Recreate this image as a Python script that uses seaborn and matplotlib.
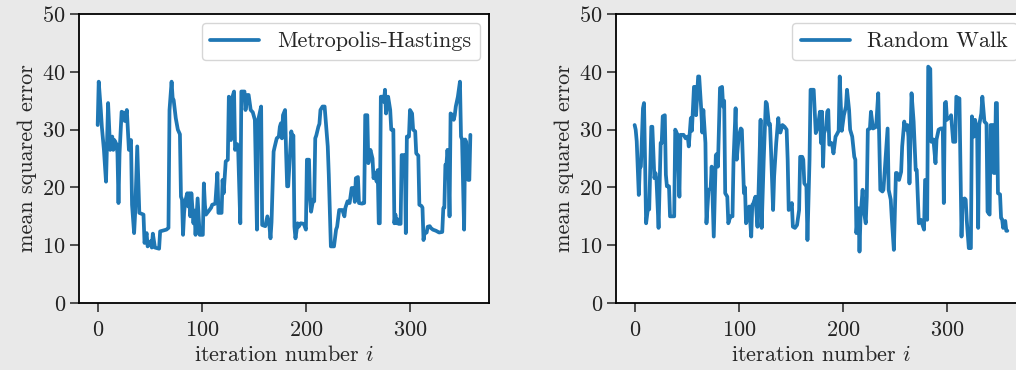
import matplotlib
matplotlib.use("Agg")
import matplotlib.pyplot as plt
import seaborn as sns

# Metropolis-Hastings chain: iteration / mean squared error
mh_iter = [0, 1, 3, 4, 6, 8, 10, 12, 14, 15, 16, 18, 19, 20, 21, 23, 25, 26, 28, 30,
           32, 33, 35, 36, 38, 40, 44, 45, 47, 48, 51, 52, 53, 55, 59, 60, 66, 68, 69, 71,
           72, 73, 75, 77, 79, 80, 81, 82, 83, 84, 86, 87, 88, 89, 90, 92, 93, 94, 96, 98,
           101, 102, 103, 104, 107, 109, 110, 113, 115, 116, 119, 120, 121, 123, 125, 126, 127, 128, 129, 131,
           132, 134, 135, 137, 138, 141, 142, 144, 145, 147, 149, 151, 153, 154, 157, 158, 161, 163, 165, 166,
           167, 169, 170, 172, 174, 175, 176, 177, 178, 180, 181, 182, 183, 185, 186, 187, 188, 189, 190, 192,
           193, 195, 198, 200, 201, 203, 204, 205, 207, 208, 209, 210, 212, 213, 214, 216, 218, 219, 221, 222,
           224, 227, 229, 230, 232, 235, 237, 238, 240, 242, 244, 246, 247, 248, 250, 251, 254, 256, 257, 259,
           260, 262, 264, 265, 266, 268, 269, 270, 271, 272, 274, 275, 276, 277, 279, 280, 281, 282, 284, 285,
           286, 287, 288, 289, 291, 292, 295, 296, 297, 299, 300, 302, 303, 305, 306, 308, 309, 311, 312, 313,
           314, 316, 317, 319, 320, 322, 325, 328, 331, 332, 333, 334, 335, 336, 337, 338, 339, 341, 342, 343,
           344, 346, 348, 349, 350, 352, 353, 354, 356, 357, 358]
mh_mse = [30.8, 38.3, 33.4, 30.5, 26.5, 21.0, 34.6, 26.5, 28.8, 26.5, 28.2, 27.5, 25.9, 17.3, 25.9, 33.1, 32.9, 31.5, 33.4, 26.5,
          28.2, 17.0, 12.1, 15.6, 27.1, 15.6, 15.3, 10.4, 12.1, 9.8, 10.7, 9.6, 12.0, 9.6, 9.4, 12.4, 12.7, 13.0, 33.4, 38.3,
          35.5, 35.1, 32.0, 30.0, 29.2, 18.4, 17.9, 11.8, 15.6, 17.5, 19.0, 16.7, 19.0, 15.0, 19.0, 13.8, 16.0, 11.8, 18.1, 11.8,
          11.8, 20.7, 17.0, 15.3, 16.0, 16.5, 17.0, 17.2, 22.5, 15.6, 15.6, 21.3, 19.0, 24.5, 24.8, 35.7, 35.0, 28.2, 35.4, 36.6,
          26.5, 27.5, 26.2, 13.8, 36.6, 36.6, 33.4, 36.0, 36.0, 33.4, 33.0, 31.7, 12.7, 31.5, 34.0, 13.5, 13.3, 15.0, 13.3, 11.2,
          14.0, 26.2, 27.0, 28.5, 28.8, 30.5, 31.1, 28.5, 32.5, 33.4, 26.0, 20.2, 20.2, 26.5, 29.7, 28.5, 29.0, 13.2, 11.2, 13.8,
          13.2, 13.8, 13.7, 12.7, 24.8, 24.8, 17.9, 15.8, 17.9, 17.6, 28.5, 29.0, 30.5, 31.0, 33.4, 34.0, 34.0, 31.7, 27.1, 22.2,
          9.8, 9.8, 12.7, 13.2, 16.1, 16.1, 15.0, 16.5, 17.6, 17.3, 19.9, 19.9, 17.5, 21.6, 21.8, 17.3, 17.2, 17.3, 32.5, 32.5,
          24.2, 26.5, 25.0, 21.6, 22.5, 21.0, 23.0, 13.8, 13.8, 35.7, 35.7, 34.8, 36.9, 32.8, 35.7, 34.5, 33.4, 30.0, 30.0, 13.8,
          15.3, 13.8, 14.5, 13.7, 13.7, 25.6, 25.6, 12.1, 28.8, 28.8, 33.4, 32.8, 30.0, 29.7, 25.9, 25.5, 17.0, 16.8, 16.5, 10.9,
          12.1, 12.2, 13.2, 13.3, 13.0, 12.7, 12.5, 12.2, 12.3, 16.4, 16.5, 23.9, 23.9, 26.5, 24.0, 15.0, 32.8, 32.5, 31.7, 32.5,
          34.0, 35.7, 38.3, 28.8, 28.3, 12.7, 28.3, 27.9, 21.3, 21.3, 29.1]

# Random walk chain
rw_iter = [0, 1, 2, 4, 5, 6, 8, 9, 10, 11, 13, 14, 16, 17, 19, 20, 21, 23, 25, 26,
           27, 29, 30, 31, 33, 34, 38, 39, 41, 43, 44, 47, 49, 51, 52, 54, 55, 57, 58, 59,
           61, 62, 64, 65, 66, 68, 69, 71, 73, 74, 76, 78, 79, 80, 82, 84, 85, 86, 87, 89,
           90, 92, 94, 95, 97, 98, 100, 102, 103, 105, 106, 107, 109, 110, 112, 113, 114, 116, 118, 119,
           121, 122, 124, 126, 127, 129, 130, 131, 133, 134, 136, 138, 139, 140, 142, 144, 146, 147, 148, 150,
           151, 152, 154, 156, 158, 159, 161, 162, 163, 165, 166, 168, 169, 172, 173, 174, 176, 178, 179, 180,
           181, 182, 184, 185, 186, 187, 189, 190, 191, 193, 194, 196, 197, 199, 201, 203, 204, 206, 207, 209,
           211, 212, 213, 215, 216, 217, 219, 220, 222, 223, 224, 226, 227, 229, 232, 234, 235, 236, 238, 239,
           241, 243, 244, 246, 247, 249, 251, 252, 254, 256, 257, 259, 260, 262, 263, 264, 266, 268, 270, 271,
           273, 275, 276, 278, 279, 280, 281, 282, 284, 285, 287, 289, 290, 292, 294, 296, 297, 298, 299, 300,
           301, 303, 304, 306, 308, 309, 310, 312, 314, 315, 317, 318, 319, 321, 323, 324, 326, 327, 329, 330,
           331, 333, 334, 336, 338, 339, 341, 342, 344, 345, 346, 347, 348, 349, 351, 352, 353, 354, 355, 356,
           357, 358]
rw_mse = [30.8, 30.0, 28.0, 18.7, 23.6, 23.6, 33.7, 34.6, 24.8, 13.8, 16.7, 16.2, 30.5, 30.5, 21.6, 22.5, 21.3, 13.0, 27.7, 27.7,
          32.3, 32.5, 22.2, 20.2, 20.2, 15.0, 15.0, 30.0, 29.2, 18.4, 29.1, 29.1, 28.5, 28.8, 27.1, 32.0, 29.8, 37.4, 37.4, 32.5,
          39.2, 39.2, 33.4, 29.5, 33.4, 27.7, 13.8, 19.6, 19.8, 23.6, 11.5, 25.6, 25.8, 23.6, 37.2, 37.4, 34.0, 35.0, 19.0, 18.4,
          13.8, 15.0, 15.0, 24.8, 33.7, 24.8, 28.8, 30.2, 30.0, 19.0, 20.0, 13.8, 15.0, 16.7, 11.5, 17.0, 17.2, 18.4, 13.2, 19.0,
          31.7, 13.0, 24.8, 34.8, 34.5, 30.8, 31.0, 26.5, 16.1, 21.9, 27.7, 32.0, 29.7, 29.5, 30.8, 30.5, 30.0, 24.8, 16.1, 16.5,
          17.3, 13.2, 13.0, 13.5, 16.1, 25.3, 25.3, 24.8, 20.7, 20.2, 10.9, 24.8, 36.9, 36.9, 33.0, 29.4, 30.5, 33.1, 27.7, 33.1,
          23.6, 29.4, 30.5, 33.1, 33.4, 27.4, 27.7, 27.1, 25.9, 28.8, 29.1, 29.8, 39.2, 29.8, 32.5, 34.0, 36.9, 33.4, 30.0, 28.8,
          25.3, 24.8, 12.1, 16.4, 8.9, 15.0, 19.6, 16.1, 13.8, 18.4, 30.0, 30.2, 33.1, 30.2, 30.5, 36.3, 27.7, 19.6, 19.3, 19.6,
          24.8, 30.2, 19.6, 17.9, 14.7, 9.2, 22.5, 22.5, 21.3, 22.7, 27.1, 31.4, 30.0, 30.8, 28.8, 20.7, 36.3, 31.4, 23.0, 23.0,
          13.8, 14.4, 13.8, 12.7, 21.3, 21.3, 14.4, 40.9, 40.5, 27.9, 28.3, 24.2, 28.3, 30.0, 30.2, 30.2, 17.3, 34.6, 34.8, 31.7,
          32.0, 32.0, 32.5, 27.9, 27.9, 35.7, 35.5, 35.4, 11.5, 17.9, 18.1, 17.9, 14.4, 9.5, 9.5, 32.3, 28.8, 31.7, 29.8, 13.0,
          30.8, 32.8, 35.7, 31.4, 31.0, 15.8, 15.3, 30.8, 30.8, 22.5, 22.5, 34.6, 34.6, 19.0, 18.8, 14.7, 14.5, 13.0, 14.0, 14.2,
          12.5, 12.5]

panels = [("Metropolis-Hastings", mh_iter, mh_mse), ("Random Walk", rw_iter, rw_mse)]

FS = 16

sns.set_style("ticks")
plt.rcParams["font.family"] = ["cmr10", "DejaVu Serif"]
plt.rcParams["mathtext.fontset"] = "cm"
plt.rcParams["axes.formatter.use_mathtext"] = True
plt.rcParams["font.size"] = FS

fig = plt.figure(figsize=(10.16, 3.70), dpi=100, facecolor="#e9e9e9")
axes = [fig.add_axes([0.0778, 0.181, 0.4035, 0.781]),
        fig.add_axes([0.6063, 0.181, 0.4035, 0.781])]

for ax, (name, it, mse) in zip(axes, panels):
    sns.lineplot(x=it, y=mse, ax=ax, color="#1f77b4", linewidth=2.7, label=name)
    ax.set_facecolor("white")
    ax.set_ylim(0, 50)
    ax.set_xticks([0, 100, 200, 300])
    ax.set_yticks([0, 10, 20, 30, 40, 50])
    ax.set_xlabel("iteration number $i$", fontsize=FS, labelpad=4)
    ax.set_ylabel("mean squared error", fontsize=FS, labelpad=4)
    ax.tick_params(direction="out", length=6.5, width=1.1, labelsize=FS, colors="#222222")
    ax.tick_params(axis="x", pad=6)
    ax.tick_params(axis="y", pad=3)
    for s in ax.spines.values():
        s.set_visible(True)
        s.set_linewidth(1.3)
        s.set_color("black")
    ax.legend(loc="upper right", fontsize=FS, handlelength=2.2, framealpha=0.8,
              edgecolor="#cccccc", fancybox=True, borderaxespad=0.4)

fig.savefig("out.png", dpi=100, facecolor=fig.get_facecolor())
